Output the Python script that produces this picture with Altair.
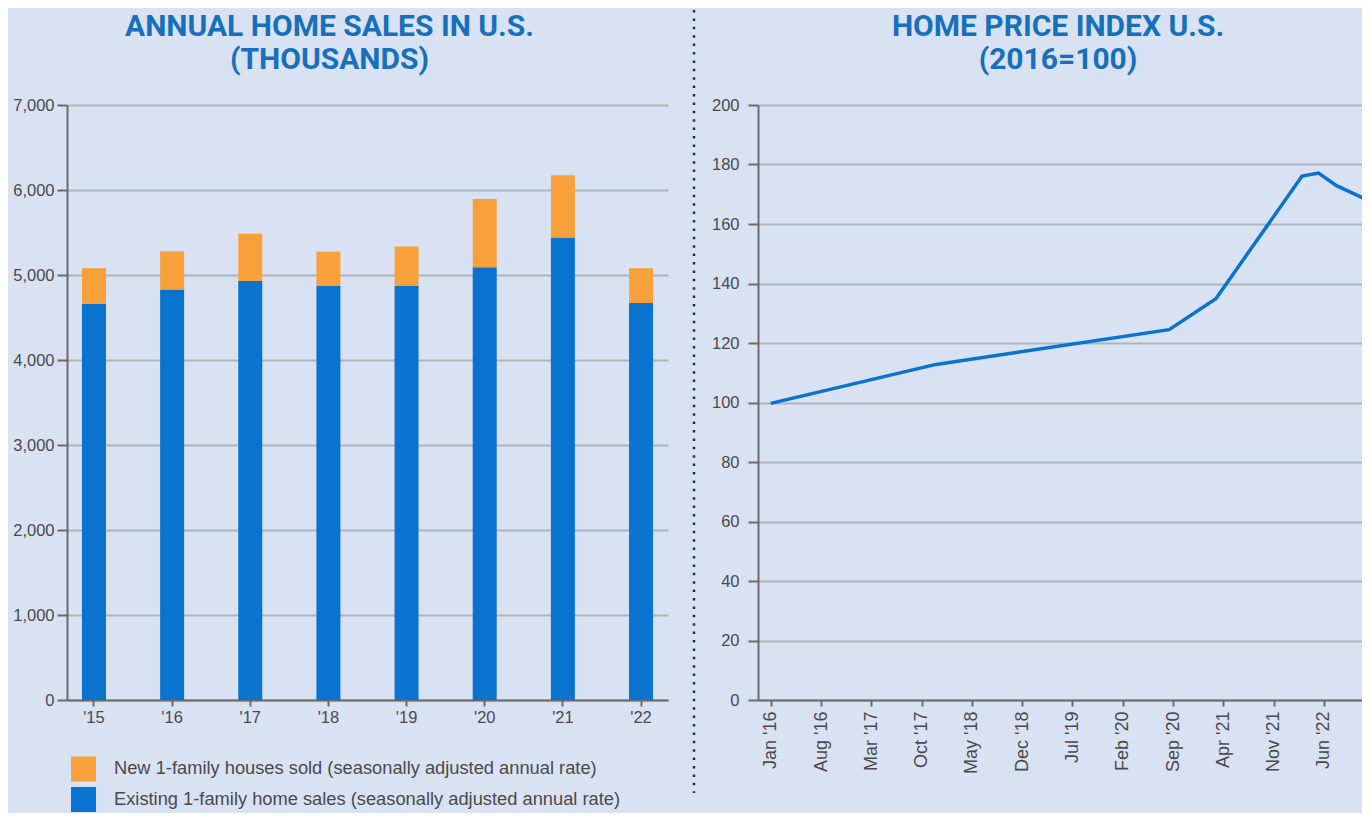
import altair as alt
import pandas as pd

# ---------------- data ----------------
years = ["'15", "'16", "'17", "'18", "'19", "'20", "'21", "'22"]
existing_sales = [4660, 4830, 4930, 4870, 4870, 5090, 5440, 4670]
new_sales = [420, 450, 555, 405, 465, 805, 735, 410]

series_new = "New 1-family houses sold (seasonally adjusted annual rate)"
series_existing = "Existing 1-family home sales (seasonally adjusted annual rate)"

sales_ticks = [0, 1000, 2000, 3000, 4000, 5000, 6000, 7000]

hpi_dates = ["2016/01/01", "2017/12/01", "2020/08/15", "2021/03/01",
             "2022/03/01", "2022/05/10", "2022/07/25", "2023/01/01"]
hpi_values = [99.7, 112.8, 124.5, 134.9, 176.1, 177.1, 172.9, 167.0]
hpi_ticks = [0, 20, 40, 60, 80, 100, 120, 140, 160, 180, 200]
# axis ticks every 7 months from Jan 2016 (year, month)
hpi_tick_months = [(2016, 1), (2016, 8), (2017, 3), (2017, 10), (2018, 5), (2018, 12),
                   (2019, 7), (2020, 2), (2020, 9), (2021, 4), (2021, 11), (2022, 6)]

# ---------------- style ----------------
BG = "#d9e2f2"
TITLE_COLOR = "#1670bb"
ORANGE = "#f8a13a"
BLUE = "#0a72cf"
AXIS_COLOR = "#6b6b6b"
GRID_COLOR = "#aeb3bb"
LABEL_COLOR = "#4a4a4a"
LABEL_FONT = "Liberation Sans"
TITLE_FONT = "Roboto"

sales = pd.DataFrame({
    "year": years * 2,
    "series": [series_existing] * len(years) + [series_new] * len(years),
    "value": existing_sales + new_sales,
    "ord": [0] * len(years) + [1] * len(years),
})

left = alt.Chart(sales).mark_bar(size=24).encode(
    x=alt.X("year:N", sort=years,
            scale=alt.Scale(paddingInner=0.69, paddingOuter=0.19),
            axis=alt.Axis(title=None, labelAngle=0, grid=False,
                          domainColor=AXIS_COLOR, domainWidth=2,
                          tickColor=AXIS_COLOR, tickWidth=2, tickSize=6,
                          labelPadding=3, labelFontSize=16.5, labelColor=LABEL_COLOR,
                          labelFont=LABEL_FONT)),
    y=alt.Y("value:Q", stack="zero",
            scale=alt.Scale(domain=[0, 7000], nice=False),
            axis=alt.Axis(title=None, values=sales_ticks, format=",.0f",
                          domainColor=AXIS_COLOR, domainWidth=2,
                          tickColor=AXIS_COLOR, tickWidth=2, tickSize=10,
                          labelPadding=3, labelFontSize=16.5, labelColor=LABEL_COLOR,
                          labelFont=LABEL_FONT, gridColor=GRID_COLOR, gridWidth=2)),
    color=alt.Color("series:N",
                    scale=alt.Scale(domain=[series_new, series_existing], range=[ORANGE, BLUE]),
                    legend=alt.Legend(title=None, orient="none", legendX=4, legendY=651.5,
                                      direction="vertical", symbolType="square",
                                      symbolSize=625, symbolStrokeWidth=0, symbolOpacity=1,
                                      labelFontSize=18.3, labelColor=LABEL_COLOR,
                                      labelFont=LABEL_FONT, labelLimit=700,
                                      labelOffset=18, rowPadding=5.5, padding=0)),
    order=alt.Order("ord:Q"),
).properties(
    width=601, height=595,
    title=alt.TitleParams(text=["ANNUAL HOME SALES IN U.S.", "(THOUSANDS)"],
                          font=TITLE_FONT, fontSize=30, fontWeight="bold",
                          color=TITLE_COLOR, lineHeight=33, anchor="middle",
                          offset=22, dx=-38),
)

separator = alt.Chart(pd.DataFrame({"k": [0]})).mark_rule(
    color="#1b2f5c", strokeWidth=2.5, strokeDash=[2.5, 5.9]
).encode(x=alt.value(26), y=alt.value(-95), y2=alt.value(688)).properties(width=43, height=595)

hpi = pd.DataFrame({"date": hpi_dates, "value": hpi_values})
tick_values = [alt.DateTime(year=y, month=m, date=1) for (y, m) in hpi_tick_months]

right = alt.Chart(hpi).mark_line(color=BLUE, strokeWidth=3.5, clip=True).encode(
    x=alt.X("date:T",
            scale=alt.Scale(domain=[alt.DateTime(year=2015, month=11, date=8),
                                    alt.DateTime(year=2022, month=11, date=10)]),
            axis=alt.Axis(title=None, values=tick_values, format="%b '%y",
                          labelAngle=270, grid=False,
                          domainColor=AXIS_COLOR, domainWidth=2,
                          tickColor=AXIS_COLOR, tickWidth=2, tickSize=6,
                          labelPadding=5, labelFontSize=18, labelColor=LABEL_COLOR,
                          labelFont=LABEL_FONT)),
    y=alt.Y("value:Q", scale=alt.Scale(domain=[0, 200], nice=False),
            axis=alt.Axis(title=None, values=hpi_ticks,
                          domainColor=AXIS_COLOR, domainWidth=2,
                          tickColor=AXIS_COLOR, tickWidth=2, tickSize=10,
                          labelPadding=9, labelFontSize=16.5, labelColor=LABEL_COLOR,
                          labelFont=LABEL_FONT, gridColor=GRID_COLOR, gridWidth=2)),
).properties(
    width=604, height=595,
    title=alt.TitleParams(text=["HOME PRICE INDEX U.S.", "(2016=100)"],
                          font=TITLE_FONT, fontSize=30, fontWeight="bold",
                          color=TITLE_COLOR, lineHeight=33, anchor="middle",
                          offset=22, dx=-2),
)

chart = alt.hconcat(left, separator, right, spacing=0).configure(
    background=BG,
    padding={"left": 4, "top": 0, "right": 0, "bottom": 0},
).configure_view(stroke=None)

chart.save("out.html", embed_options={"renderer": "svg", "actions": False})
